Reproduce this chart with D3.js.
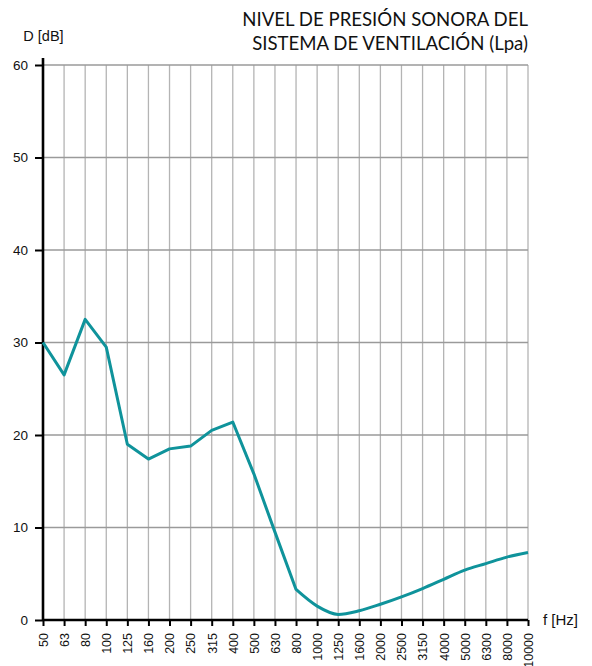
<!DOCTYPE html>
<html>
<head>
<meta charset="utf-8">
<script src="https://cdn.jsdelivr.net/npm/d3@7/dist/d3.min.js"></script>
<style>
  html, body { margin: 0; padding: 0; background: #fff; }
  svg { display: block; }
</style>
</head>
<body>
<svg id="chart" width="592" height="666"></svg>
<script>
// Third-octave band centre frequencies (Hz)
const frequencies = ["50","63","80","100","125","160","200","250","315","400","500","630",
  "800","1000","1250","1600","2000","2500","3150","4000","5000","6300","8000","10000"];
// Sound pressure level per band (dB)
const levels = [30.0, 26.5, 32.5, 29.5, 19.0, 17.4, 18.5, 18.8, 20.5, 21.4, 15.8, 9.5,
  3.3, 1.5, 0.6, 1.0, 1.7, 2.5, 3.4, 4.4, 5.4, 6.1, 6.8, 7.3];
const yTicks = [0, 10, 20, 30, 40, 50, 60];
const titleLines = ["NIVEL DE PRESIÓN SONORA DEL", "SISTEMA DE VENTILACIÓN (Lpa)"];

const svg = d3.select("#chart");
const plotLeft = 43, plotRight = 528, plotTop = 65, plotBottom = 620;
const sans = "Liberation Sans, Arial, sans-serif";

const x = d3.scalePoint().domain(frequencies).range([plotLeft, plotRight]);
const y = d3.scaleLinear().domain([0, 60]).range([plotBottom, plotTop]);

// grid
const grid = svg.append("g");
grid.selectAll("line.v").data(frequencies).join("line")
  .attr("x1", d => x(d)).attr("x2", d => x(d))
  .attr("y1", y(60)).attr("y2", y(0))
  .attr("stroke", "#b4b4b4").attr("stroke-width", 1.3);
grid.selectAll("line.h").data(yTicks.filter(d => d > 0)).join("line")
  .attr("x1", plotLeft).attr("x2", plotRight)
  .attr("y1", d => y(d)).attr("y2", d => y(d))
  .attr("stroke", "#9a9a9a").attr("stroke-width", 1.3);

// axes
const yAxis = svg.append("g").attr("transform", `translate(${plotLeft},0)`)
  .call(d3.axisLeft(y).tickValues(yTicks).tickSize(8).tickPadding(7));
yAxis.select(".domain").remove();
yAxis.append("line").attr("x1", 0).attr("x2", 0).attr("y1", y(0)).attr("y2", y(60) - 7)
  .attr("stroke", "#000").attr("stroke-width", 2.6);
yAxis.selectAll(".tick line").attr("stroke", "#000").attr("stroke-width", 2);
yAxis.selectAll(".tick text")
  .attr("font-family", sans).attr("font-size", 13.5).attr("fill", "#111");

const xAxis = svg.append("g").attr("transform", `translate(0,${plotBottom})`)
  .call(d3.axisBottom(x).tickSize(6));
xAxis.select(".domain").remove();
xAxis.append("line").attr("x1", plotLeft).attr("x2", plotRight).attr("y1", 0).attr("y2", 0)
  .attr("stroke", "#000").attr("stroke-width", 2.6);
xAxis.selectAll(".tick line").attr("stroke", "#000").attr("stroke-width", 2);
xAxis.selectAll(".tick text")
  .attr("font-family", sans).attr("font-size", 12.5).attr("fill", "#111")
  .attr("text-anchor", "end").attr("dy", "0.35em")
  .attr("transform", "translate(0,13) rotate(-90)").attr("x", 0).attr("y", 0);

// curve: straight segments through the low bands, smooth tail from 800 Hz
const pts = frequencies.map((f, i) => [x(f), y(levels[i])]);
const split = frequencies.indexOf("800");
const head = d3.line().curve(d3.curveLinear)(pts.slice(0, split + 1));
const tail = d3.line().curve(d3.curveMonotoneX)(pts.slice(split));
svg.append("path").attr("d", head + tail.replace(/^M/, "L"))
  .attr("fill", "none").attr("stroke", "#0f939b").attr("stroke-width", 3)
  .attr("stroke-linejoin", "round");

// labels
svg.append("text").attr("x", 43.5).attr("y", 40.5).attr("text-anchor", "middle")
  .attr("font-family", sans).attr("font-size", 14.5).attr("fill", "#111")
  .text("D [dB]");
svg.append("text").attr("x", 543).attr("y", 625)
  .attr("font-family", sans).attr("font-size", 15).attr("fill", "#111")
  .text("f [Hz]");
svg.append("g").selectAll("text").data(titleLines).join("text")
  .attr("x", 528).attr("y", (d, i) => 25.5 + i * 24).attr("text-anchor", "end")
  .attr("font-family", "Lato, sans-serif").attr("font-size", 18.6).attr("fill", "#111")
  .text(d => d);
</script>
</body>
</html>
